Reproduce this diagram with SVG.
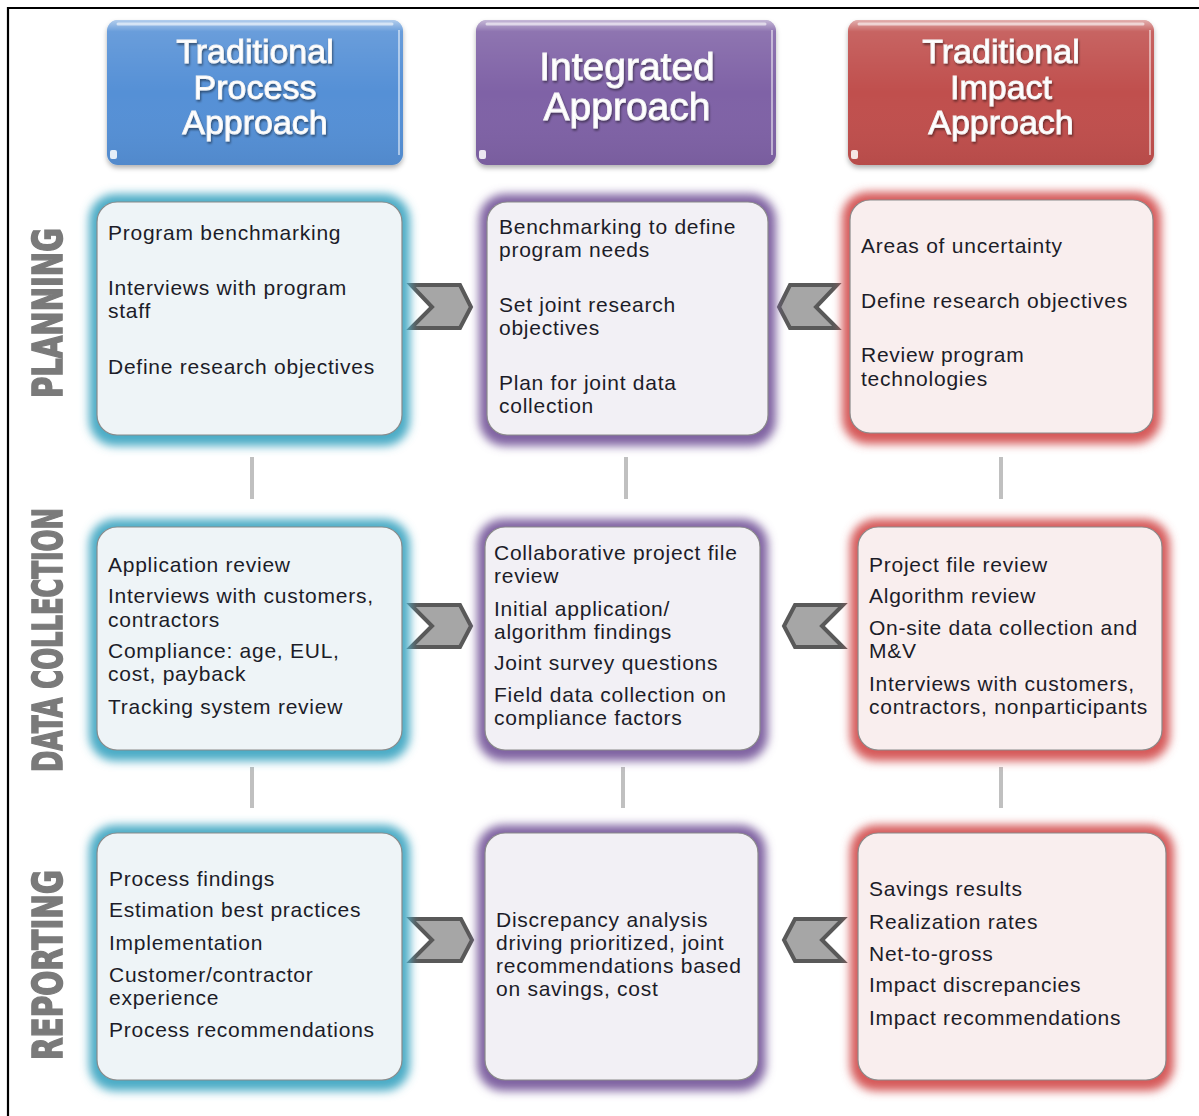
<svg xmlns="http://www.w3.org/2000/svg" width="1199" height="1116" viewBox="0 0 1199 1116">
<defs>
<style>
.hdr{font-family:"Liberation Sans",Arial,sans-serif;fill:#fff;text-anchor:middle;stroke:#f4f4f4;stroke-width:0.9}
.txt{font-family:"Liberation Sans",Arial,sans-serif;font-size:21px;fill:#1c1c28;letter-spacing:0.75px}
.side{font-family:"Liberation Sans Narrow","DejaVu Sans Condensed","Liberation Sans",sans-serif;font-weight:bold;font-size:41px;fill:#7a7a7a;stroke:#7a7a7a;stroke-width:1.6;text-anchor:middle}
.box{stroke:#8a8a8a;stroke-width:1.2}
.bL{fill:#eef4f7}.bM{fill:#f2f0f5}.bR{fill:#f9eeee}
.gL{fill:#4bacc6}.gM{fill:#8064a2}.gR{fill:#d65a5a}
.chev{fill:#a6a6a6;stroke:#595959;stroke-width:4;stroke-linejoin:miter}
.vline{stroke:#c0c0c0;stroke-width:4}
</style>
<filter id="glow" x="-20%" y="-20%" width="140%" height="140%">
<feGaussianBlur stdDeviation="5"/>
</filter>
<filter id="tsh" x="-10%" y="-10%" width="120%" height="130%">
<feDropShadow dx="1" dy="2" stdDeviation="1" flood-color="#000" flood-opacity="0.45"/>
</filter>
<filter id="hsh" x="-10%" y="-10%" width="120%" height="130%">
<feDropShadow dx="0" dy="3" stdDeviation="2.5" flood-color="#000" flood-opacity="0.3"/>
</filter>
<filter id="soft"><feGaussianBlur stdDeviation="0.6"/></filter>
<linearGradient id="gloss" x1="0" y1="0" x2="0" y2="1">
<stop offset="0" stop-color="#fff" stop-opacity="0.55"/>
<stop offset="0.08" stop-color="#fff" stop-opacity="0.12"/>
<stop offset="0.5" stop-color="#fff" stop-opacity="0"/>
<stop offset="1" stop-color="#000" stop-opacity="0.05"/>
</linearGradient>
</defs>
<rect x="0" y="0" width="1199" height="1116" fill="#fff"/>
<path d="M8,1116 V8 H1199" fill="none" stroke="#000" stroke-width="2.2"/>

<!-- side labels -->
<g id="side-labels" filter="url(#soft)">
<text class="side" transform="translate(62,313) rotate(-90)" textLength="170" lengthAdjust="spacingAndGlyphs">PLANNING</text>
<text class="side" transform="translate(62,640) rotate(-90)" textLength="264" lengthAdjust="spacingAndGlyphs">DATA COLLECTION</text>
<text class="side" transform="translate(62,965) rotate(-90)" textLength="190" lengthAdjust="spacingAndGlyphs">REPORTING</text>
</g>

<!-- headers -->
<g id="hdr-process">
<rect x="107" y="20" width="296" height="145" rx="11" fill="#5590d6" filter="url(#hsh)"/>
<rect x="107" y="20" width="296" height="145" rx="11" fill="url(#gloss)"/>
<path d="M118,24 H392" stroke="#fff" stroke-opacity="0.6" stroke-width="3" stroke-linecap="round"/>
<path d="M399,30 V155" stroke="#fff" stroke-opacity="0.5" stroke-width="2"/>
<rect x="110" y="150" width="7" height="9" rx="2" fill="#fff" fill-opacity="0.85"/>
<g filter="url(#tsh)">
<text class="hdr" x="255" y="63" font-size="34">Traditional</text>
<text class="hdr" x="255" y="99" font-size="34">Process</text>
<text class="hdr" x="255" y="134" font-size="34">Approach</text>
</g>
</g>
<g id="hdr-integrated">
<rect x="476" y="20" width="300" height="145" rx="11" fill="#7f62a6" filter="url(#hsh)"/>
<rect x="476" y="20" width="300" height="145" rx="11" fill="url(#gloss)"/>
<path d="M487,24 H765" stroke="#fff" stroke-opacity="0.6" stroke-width="3" stroke-linecap="round"/>
<path d="M772,30 V155" stroke="#fff" stroke-opacity="0.5" stroke-width="2"/>
<rect x="479" y="150" width="7" height="9" rx="2" fill="#fff" fill-opacity="0.85"/>
<g filter="url(#tsh)">
<text class="hdr" x="627" y="80" font-size="39">Integrated</text>
<text class="hdr" x="627" y="120" font-size="39">Approach</text>
</g>
</g>
<g id="hdr-impact">
<rect x="848" y="20" width="306" height="145" rx="11" fill="#c0504d" filter="url(#hsh)"/>
<rect x="848" y="20" width="306" height="145" rx="11" fill="url(#gloss)"/>
<path d="M859,24 H1143" stroke="#fff" stroke-opacity="0.6" stroke-width="3" stroke-linecap="round"/>
<path d="M1150,30 V155" stroke="#fff" stroke-opacity="0.5" stroke-width="2"/>
<rect x="851" y="150" width="7" height="9" rx="2" fill="#fff" fill-opacity="0.85"/>
<g filter="url(#tsh)">
<text class="hdr" x="1001" y="63" font-size="34">Traditional</text>
<text class="hdr" x="1001" y="99" font-size="34">Impact</text>
<text class="hdr" x="1001" y="134" font-size="34">Approach</text>
</g>
</g>

<!-- connectors -->
<g id="connectors">
<line class="vline" x1="252" y1="457" x2="252" y2="499"/>
<line class="vline" x1="626" y1="457" x2="626" y2="499"/>
<line class="vline" x1="1001" y1="457" x2="1001" y2="499"/>
<line class="vline" x1="252" y1="767" x2="252" y2="808"/>
<line class="vline" x1="623" y1="767" x2="623" y2="808"/>
<line class="vline" x1="1001" y1="767" x2="1001" y2="808"/>
<polygon class="chev" points="411,285 460,285 471,307 460,328 411,328 432,307"/>
<polygon class="chev" points="837,285 790,285 779,307 790,328 837,328 816,307"/>
<polygon class="chev" points="411,605 460,605 471,626 460,647 411,647 432,626"/>
<polygon class="chev" points="843,605 795,605 784,626 795,647 843,647 822,626"/>
<polygon class="chev" points="411,919 461,919 472,940 461,961 411,961 432,940"/>
<polygon class="chev" points="843,919 795,919 784,940 795,961 843,961 822,940"/>
</g>

<!-- Planning row -->
<g id="plan-process">
<rect class="gL" x="89" y="194" width="321" height="252" rx="26" filter="url(#glow)"/>
<rect class="box bL" x="97" y="202" width="305" height="233" rx="20"/>
<text class="txt" x="108" y="240">Program  benchmarking</text>
<text class="txt" x="108" y="295">Interviews with program</text>
<text class="txt" x="108" y="318">staff</text>
<text class="txt" x="108" y="374">Define research objectives</text>
</g>
<g id="plan-integrated">
<rect class="gM" x="479" y="194" width="297" height="252" rx="26" filter="url(#glow)"/>
<rect class="box bM" x="487" y="202" width="281" height="233" rx="20"/>
<text class="txt" x="499" y="234">Benchmarking to define</text>
<text class="txt" x="499" y="257">program needs</text>
<text class="txt" x="499" y="312">Set joint research</text>
<text class="txt" x="499" y="335">objectives</text>
<text class="txt" x="499" y="390">Plan for joint data</text>
<text class="txt" x="499" y="413">collection</text>
</g>
<g id="plan-impact">
<rect class="gR" x="842" y="192" width="319" height="252" rx="26" filter="url(#glow)"/>
<rect class="box bR" x="850" y="200" width="303" height="233" rx="20"/>
<text class="txt" x="861" y="253">Areas of uncertainty</text>
<text class="txt" x="861" y="308">Define research objectives</text>
<text class="txt" x="861" y="362">Review program</text>
<text class="txt" x="861" y="386">technologies</text>
</g>

<!-- Data collection row -->
<g id="data-process">
<rect class="gL" x="89" y="519" width="321" height="242" rx="26" filter="url(#glow)"/>
<rect class="box bL" x="97" y="527" width="305" height="223" rx="20"/>
<text class="txt" x="108" y="572">Application review</text>
<text class="txt" x="108" y="603">Interviews with customers,</text>
<text class="txt" x="108" y="627">contractors</text>
<text class="txt" x="108" y="658">Compliance: age, EUL,</text>
<text class="txt" x="108" y="681">cost, payback</text>
<text class="txt" x="108" y="714">Tracking system review</text>
</g>
<g id="data-integrated">
<rect class="gM" x="477" y="519" width="291" height="242" rx="26" filter="url(#glow)"/>
<rect class="box bM" x="485" y="527" width="275" height="223" rx="20"/>
<text class="txt" x="494" y="560">Collaborative project file</text>
<text class="txt" x="494" y="583">review</text>
<text class="txt" x="494" y="616">Initial application/</text>
<text class="txt" x="494" y="639">algorithm findings</text>
<text class="txt" x="494" y="670">Joint survey questions</text>
<text class="txt" x="494" y="702">Field data collection on</text>
<text class="txt" x="494" y="725">compliance factors</text>
</g>
<g id="data-impact">
<rect class="gR" x="850" y="519" width="320" height="242" rx="26" filter="url(#glow)"/>
<rect class="box bR" x="858" y="527" width="304" height="223" rx="20"/>
<text class="txt" x="869" y="572">Project file review</text>
<text class="txt" x="869" y="603">Algorithm review</text>
<text class="txt" x="869" y="635">On-site data collection and</text>
<text class="txt" x="869" y="658">M&amp;V</text>
<text class="txt" x="869" y="691">Interviews with customers,</text>
<text class="txt" x="869" y="714">contractors, nonparticipants</text>
</g>

<!-- Reporting row -->
<g id="rep-process">
<rect class="gL" x="89" y="825" width="321" height="266" rx="26" filter="url(#glow)"/>
<rect class="box bL" x="97" y="833" width="305" height="247" rx="20"/>
<text class="txt" x="109" y="886">Process findings</text>
<text class="txt" x="109" y="917">Estimation best practices</text>
<text class="txt" x="109" y="950">Implementation</text>
<text class="txt" x="109" y="982">Customer/contractor</text>
<text class="txt" x="109" y="1005">experience</text>
<text class="txt" x="109" y="1037">Process recommendations</text>
</g>
<g id="rep-integrated">
<rect class="gM" x="477" y="825" width="289" height="266" rx="26" filter="url(#glow)"/>
<rect class="box bM" x="485" y="833" width="273" height="247" rx="20"/>
<text class="txt" x="496" y="927">Discrepancy analysis</text>
<text class="txt" x="496" y="950">driving prioritized, joint</text>
<text class="txt" x="496" y="973">recommendations based</text>
<text class="txt" x="496" y="996">on savings, cost</text>
</g>
<g id="rep-impact">
<rect class="gR" x="850" y="825" width="324" height="266" rx="26" filter="url(#glow)"/>
<rect class="box bR" x="858" y="833" width="308" height="247" rx="20"/>
<text class="txt" x="869" y="896">Savings results</text>
<text class="txt" x="869" y="929">Realization rates</text>
<text class="txt" x="869" y="961">Net-to-gross</text>
<text class="txt" x="869" y="992">Impact discrepancies</text>
<text class="txt" x="869" y="1025">Impact recommendations</text>
</g>
</svg>
